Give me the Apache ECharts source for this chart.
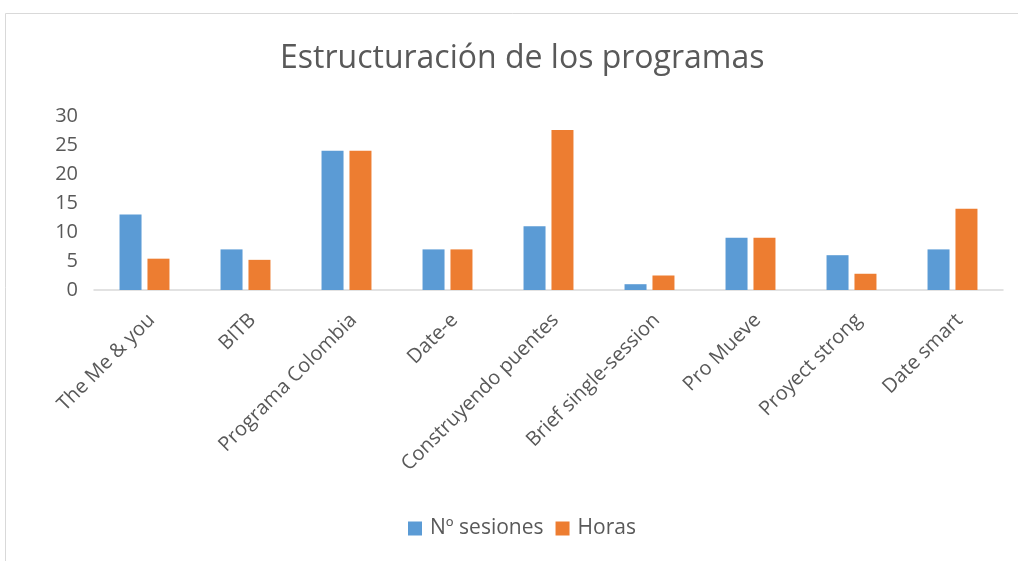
<!DOCTYPE html>
<html><head><meta charset="utf-8">
<script src="https://cdn.jsdelivr.net/npm/echarts@6/dist/echarts.min.js"></script>
<style>html,body{margin:0;padding:0;background:#fff;}#c{width:1018px;height:561px;}</style>
</head><body><div id="c"></div>
<script>
const categories = ["The Me & you","BITB","Programa Colombia","Date-e","Construyendo puentes","Brief single-session","Pro Mueve","Proyect strong","Date smart"];
const sesiones = [13, 7, 24, 7, 11, 1, 9, 6, 7];
const horas = [5.4, 5.2, 24, 7, 27.6, 2.5, 9, 2.8, 14];
const yTicks = [0, 5, 10, 15, 20, 25, 30];
const FONT = '"Open Sans", "Noto Sans", sans-serif';
const chart = echarts.init(document.getElementById('c'), null, {renderer:'canvas'});
chart.setOption({
  animation:false,
  textStyle:{fontFamily:FONT},
  graphic:[{type:'rect',shape:{x:5.5,y:13.5,width:1200,height:700},style:{fill:'none',stroke:'#d9d9d9',lineWidth:1},silent:true}],
  title:{text:'Estructuración de los programas',left:275,top:38,textStyle:{fontFamily:FONT,fontSize:32,fontWeight:'normal',color:'#595959'}},
  legend:{bottom:17,left:403,itemWidth:14,itemHeight:14,itemGap:12,icon:'rect',textStyle:{fontFamily:FONT,fontSize:21,color:'#595959',padding:[0,0,0,3]},data:['Nº sesiones','Horas']},
  grid:{left:94,right:15,top:116,bottom:271,containLabel:false},
  xAxis:{type:'category',data:categories,axisLine:{lineStyle:{color:'#d9d9d9',width:1.5}},axisTick:{show:false},
    axisLabel:{rotate:45,interval:0,fontSize:20,color:'#595959',fontFamily:FONT,margin:20,verticalAlign:'top'}},
  yAxis:{type:'value',min:yTicks[0],max:yTicks[yTicks.length-1],interval:5,splitLine:{show:false},axisLine:{show:false},axisTick:{show:false},
    axisLabel:{fontSize:20,color:'#595959',fontFamily:FONT,margin:16}},
  series:[
    {name:'Nº sesiones',type:'bar',data:sesiones,barWidth:22,barGap:'27%',itemStyle:{color:'#5B9BD5'}},
    {name:'Horas',type:'bar',data:horas,barWidth:22,barGap:'27%',itemStyle:{color:'#ED7D31'}}
  ]
});
</script></body></html>
